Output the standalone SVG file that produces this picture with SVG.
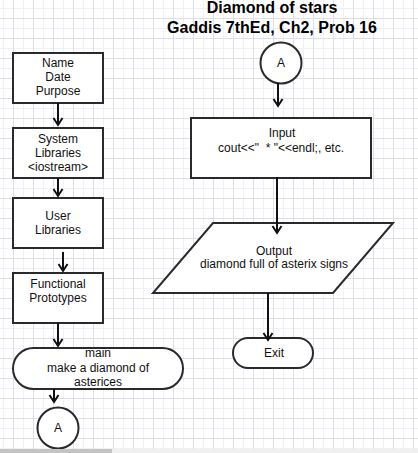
<svg xmlns="http://www.w3.org/2000/svg" width="418" height="453" viewBox="0 0 418 453">
<defs>
<pattern id="grid" x="3" y="8" width="20" height="20" patternUnits="userSpaceOnUse">
<rect x="0" y="0" width="1" height="20" fill="#f1f0f8"/>
<rect x="0" y="0" width="20" height="1" fill="#f1f0f8"/>
<rect x="10" y="0" width="1" height="20" fill="#dfdcec"/>
<rect x="0" y="10" width="20" height="1" fill="#dfdcec"/>
</pattern>
<marker id="arr" markerWidth="12" markerHeight="12" viewBox="-10 -6 12 12" refX="0" refY="0" orient="auto" markerUnits="userSpaceOnUse">
<path d="M-7,-4.5 L0,0 L-7,4.5" fill="none" stroke="#111" stroke-width="2"/>
</marker>
</defs>
<style>
.shape{fill:#fff;stroke:#2a2a2a;stroke-width:2}
.t{font-family:"Liberation Sans",Arial,sans-serif;font-size:12px;fill:#111;text-anchor:middle}
.title{font-family:"Liberation Sans",Arial,sans-serif;font-size:16px;font-weight:bold;fill:#000;text-anchor:middle}
.c{fill:none;stroke:#111;stroke-width:2;marker-end:url(#arr)}
</style>
<rect width="418" height="453" fill="#fff"/>
<rect width="418" height="453" fill="url(#grid)"/>
<g id="title">
<text class="title" x="272" y="13">Diamond of stars</text>
<text class="title" x="272" y="33">Gaddis 7thEd, Ch2, Prob 16</text>
</g>
<g id="name">
<rect class="shape" x="13" y="53" width="90" height="50"/>
<text class="t" x="58" y="67">Name</text>
<text class="t" x="58" y="81">Date</text>
<text class="t" x="58" y="95">Purpose</text>
</g>
<g id="syslib">
<rect class="shape" x="13" y="128" width="90" height="50"/>
<text class="t" x="58" y="143">System</text>
<text class="t" x="58" y="157">Libraries</text>
<text class="t" x="58" y="171">&lt;iostream&gt;</text>
</g>
<g id="userlib">
<rect class="shape" x="13" y="198" width="90" height="50"/>
<text class="t" x="58" y="220">User</text>
<text class="t" x="58" y="234">Libraries</text>
</g>
<g id="proto">
<rect class="shape" x="13" y="273" width="90" height="50"/>
<text class="t" x="58" y="288">Functional</text>
<text class="t" x="58" y="302">Prototypes</text>
</g>
<g id="main">
<rect class="shape" x="13" y="348" width="170" height="41" rx="20.5" ry="20.5"/>
<text class="t" x="98" y="357">main</text>
<text class="t" x="98" y="372">make a diamond of</text>
<text class="t" x="98" y="386">asterices</text>
</g>
<g id="connA1">
<circle class="shape" cx="58" cy="428" r="20.5"/>
<text class="t" x="58" y="432">A</text>
</g>
<g id="connA2">
<circle class="shape" cx="281" cy="63" r="20.5"/>
<text class="t" x="281" y="67">A</text>
</g>
<g id="input">
<rect class="shape" x="191" y="118" width="180" height="60"/>
<text class="t" x="282" y="137">Input</text>
<text class="t" x="281" y="152" xml:space="preserve">cout&lt;&lt;"  * "&lt;&lt;endl;, etc.</text>
</g>
<g id="output">
<polygon class="shape" points="213,223 393,223 333,293 153,293"/>
<text class="t" x="274" y="255">Output</text>
<text class="t" x="274" y="268">diamond full of asterix signs</text>
</g>
<g id="exit">
<rect class="shape" x="233" y="338" width="80" height="30" rx="15" ry="15"/>
<text class="t" x="274" y="357">Exit</text>
</g>
<g id="connectors">
<line class="c" x1="58" y1="103" x2="58" y2="125"/>
<line class="c" x1="58" y1="178" x2="58" y2="196"/>
<line class="c" x1="63" y1="252" x2="63" y2="271"/>
<line class="c" x1="58" y1="323" x2="58" y2="346"/>
<line class="c" x1="54" y1="389" x2="54" y2="402"/>
<line class="c" x1="278" y1="83" x2="278" y2="106"/>
<line class="c" x1="277" y1="177" x2="277" y2="233"/>
<line class="c" x1="268" y1="293" x2="268" y2="340"/>
</g>
<g id="scrollbar">
<rect x="0" y="449" width="418" height="4" fill="#f0f0f0"/>
<rect x="0" y="449" width="112" height="4" fill="#c4c4c4"/>
</g>
</svg>
